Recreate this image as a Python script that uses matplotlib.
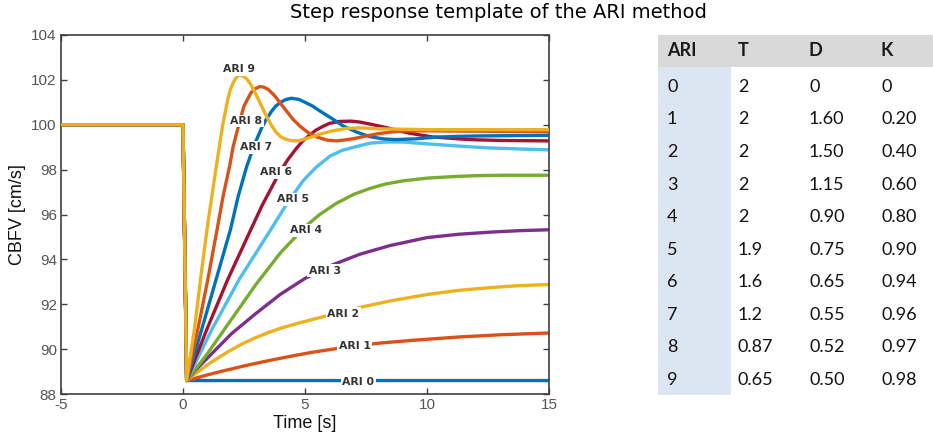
import matplotlib
matplotlib.use("Agg")
import matplotlib.pyplot as plt
from matplotlib.patches import Rectangle

plt.rcParams['axes.unicode_minus'] = False

# baseline before the step, and the value right after the drop
pre_t = [-5, 0]
pre_v = [100, 100]

ari0_t = [0.15, 15]
ari0_v = [88.6, 88.6]
ari1_t = [0.15, 0.5, 1, 1.5, 2.04, 2.5, 3, 3.7, 4.5, 5.3, 6.14, 7, 8.07, 9.5, 11.3, 13, 15]
ari1_v = [88.6, 88.7, 88.85, 88.99, 89.13, 89.25, 89.37, 89.53, 89.7, 89.86, 90.0, 90.14, 90.27, 90.4, 90.54, 90.64, 90.72]
ari2_t = [0.15, 0.5, 1, 1.4, 1.84, 2.4, 3, 3.5, 4, 4.8, 5.66, 6.4, 7.25, 8.5, 9.98, 11.3, 12.7, 13.8, 15]
ari2_v = [88.6, 88.9, 89.3, 89.58, 89.88, 90.22, 90.52, 90.74, 90.93, 91.18, 91.42, 91.63, 91.86, 92.15, 92.43, 92.62, 92.75, 92.83, 92.88]
ari3_t = [0.15, 0.5, 1, 1.5, 2, 2.5, 3, 4, 5, 6, 7.25, 8.5, 10, 11.3, 12.7, 13.8, 15]
ari3_v = [88.6, 89.05, 89.6, 90.15, 90.7, 91.15, 91.6, 92.45, 93.15, 93.7, 94.23, 94.62, 94.97, 95.12, 95.22, 95.28, 95.32]
ari4_t = [0.15, 1, 2, 3, 4, 5, 5.6, 6.29, 7.0, 7.66, 8.3, 9.02, 10, 11.07, 12, 13.1, 15]
ari4_v = [88.6, 89.8, 91.35, 92.9, 94.3, 95.45, 96.0, 96.5, 96.9, 97.16, 97.36, 97.5, 97.62, 97.69, 97.73, 97.75, 97.75]
ari5_t = [0.15, 1.19, 2.31, 3.0, 3.61, 4.3, 4.92, 5.45, 6.02, 6.5, 7.0, 7.66, 8.3, 9.02, 10.0, 11.3, 12.5, 13.8, 15]
ari5_v = [88.6, 90.89, 93.12, 94.3, 95.35, 96.55, 97.5, 98.1, 98.6, 98.85, 99.0, 99.18, 99.23, 99.23, 99.15, 99.05, 98.97, 98.92, 98.88]
ari6_t = [0.15, 0.98, 1.84, 2.79, 3.24, 3.97, 4.3, 4.65, 4.9, 5.2, 5.45, 5.74, 6.0, 6.43, 6.9, 7.25,
          7.8, 8.34, 8.8, 9.3, 10.2, 11.3, 12, 13, 15]
ari6_v = [88.6, 90.89, 93.12, 95.35, 96.4, 97.9, 98.45, 98.95, 99.27, 99.55, 99.76, 99.93, 100.06, 100.15, 100.16, 100.12,
          100.0, 99.87, 99.74, 99.62, 99.46, 99.37, 99.33, 99.3, 99.28]
ari7_t = [0.15, 0.77, 1.36, 1.95, 2.26, 2.6, 2.9, 3.22, 3.4, 3.63, 3.8, 3.97, 4.2, 4.45, 4.75, 5.0, 5.3, 5.6,
          6.1, 6.56, 7.1, 7.66, 8.2, 8.7, 9.5, 10.4, 11.2, 12, 15]
ari7_v = [88.6, 90.89, 93.12, 95.35, 96.8, 98.1, 99.05, 99.85, 100.22, 100.6, 100.83, 100.98, 101.12, 101.18, 101.13, 101.0, 100.84, 100.62,
          100.28, 99.95, 99.68, 99.47, 99.37, 99.34, 99.37, 99.45, 99.48, 99.5, 99.53]
ari8_t = [0.15, 0.61, 1.02, 1.4, 1.65, 1.92, 2.05, 2.19, 2.35, 2.49, 2.65, 2.8, 2.95, 3.15, 3.3, 3.5, 3.75, 3.97,
          4.25, 4.51, 4.8, 5.13, 5.5, 5.88, 6.3, 6.6, 7.0, 7.5, 8.0, 8.5, 9.0, 10, 11, 15]
ari8_v = [88.6, 90.89, 93.12, 95.35, 96.85, 98.2, 99.0, 99.6, 100.25, 100.8, 101.15, 101.45, 101.6, 101.70, 101.68, 101.57, 101.3, 100.99,
          100.6, 100.24, 99.93, 99.65, 99.45, 99.32, 99.28, 99.32, 99.38, 99.5, 99.6, 99.67, 99.72, 99.73, 99.72, 99.69]
ari9_t = [0.15, 0.47, 0.74, 0.98, 1.2, 1.41, 1.62, 1.85, 1.95, 2.05, 2.15, 2.25, 2.33, 2.45, 2.6, 2.7, 2.81, 2.95,
          3.15, 3.3, 3.45, 3.65, 3.83, 4.0, 4.2, 4.4, 4.58, 4.8, 5.1, 5.35, 5.6, 6.1, 6.7, 7.3, 8, 10, 15]
ari9_v = [88.6, 90.89, 93.3, 95.3, 96.95, 98.46, 99.95, 101.2, 101.6, 101.85, 102.05, 102.18, 102.22, 102.17, 102.06, 101.92, 101.73, 101.45,
          100.99, 100.65, 100.32, 99.93, 99.65, 99.47, 99.36, 99.3, 99.28, 99.3, 99.4, 99.48, 99.58, 99.72, 99.84, 99.86, 99.82, 99.78, 99.78]

curves_t = [ari0_t, ari1_t, ari2_t, ari3_t, ari4_t, ari5_t, ari6_t, ari7_t, ari8_t, ari9_t]
curves_v = [ari0_v, ari1_v, ari2_v, ari3_v, ari4_v, ari5_v, ari6_v, ari7_v, ari8_v, ari9_v]

# where the "ARI n" tags sit (time, CBFV)
label_t = [7.18, 7.04, 6.56, 5.81, 5.06, 4.5, 3.83, 3.01, 2.6, 2.29]
label_v = [88.55, 90.15, 91.58, 93.5, 95.3, 96.68, 97.88, 99.0, 100.17, 102.47]

# table on the right
tab_header = ["ARI", "T", "D", "K"]
tab_ari = ["0", "1", "2", "3", "4", "5", "6", "7", "8", "9"]
tab_T = ["2", "2", "2", "2", "2", "1.9", "1.6", "1.2", "0.87", "0.65"]
tab_D = ["0", "1.60", "1.50", "1.15", "0.90", "0.75", "0.65", "0.55", "0.52", "0.50"]
tab_K = ["0", "0.20", "0.40", "0.60", "0.80", "0.90", "0.94", "0.96", "0.97", "0.98"]

colors = ['#0072BD', '#D95319', '#EDB120', '#7E2F8E', '#77AC30',
          '#4DBEEE', '#A2142F', '#0072BD', '#D95319', '#EDB120']

W, H = 933, 438
fig = plt.figure(figsize=(W / 100, H / 100), dpi=100)
ax = fig.add_axes([61 / W, 1 - 394 / H, 488 / W, 359 / H])

for i in range(10):
    t = pre_t + curves_t[i]
    v = pre_v + curves_v[i]
    ax.plot(t, v, color=colors[i], lw=2.4, solid_joinstyle='round',
            solid_capstyle='round', zorder=2 + i * 0.1)

for i in range(10):
    ax.text(label_t[i], label_v[i], f"ARI {i}", fontsize=7.8, fontweight='bold',
            color='#333333', ha='center', va='center', zorder=5,
            bbox=dict(facecolor='white', edgecolor='none', pad=1.0))

axis_font = ['Liberation Sans', 'DejaVu Sans']
ax.set_xlim(-5, 15)
ax.set_ylim(88, 104)
ax.set_xticks([-5, 0, 5, 10, 15])
ax.set_yticks(range(88, 105, 2))
ax.tick_params(direction='in', top=True, right=True, length=4, width=1,
               colors='#404040', labelsize=11, pad=3)
for lab in ax.get_xticklabels() + ax.get_yticklabels():
    lab.set_family(axis_font)
    lab.set_color('#555555')
for sp in ax.spines.values():
    sp.set_color('#404040')
    sp.set_linewidth(1.2)
ax.set_xlabel("Time [s]", fontsize=13, family=axis_font, color='#111111', labelpad=2)
ax.set_ylabel("CBFV [cm/s]", fontsize=13, family=axis_font, color='#111111', labelpad=4)

fig.text(498 / W, 1 - 12 / H, "Step response template of the ARI method",
         ha='center', va='center', fontsize=14, family='DejaVu Sans')

# table
fig.patches.append(Rectangle((658 / W, 1 - 66.5 / H), (W - 658) / W, 31.5 / H,
                             transform=fig.transFigure, facecolor='#d9d9d9',
                             edgecolor='none', zorder=0))
fig.patches.append(Rectangle((658 / W, 1 - 395 / H), 73 / W, (395 - 66.5) / H,
                             transform=fig.transFigure, facecolor='#dce6f2',
                             edgecolor='none', zorder=0))
col_x = [667, 738, 809, 881]
for j, h in enumerate(tab_header):
    fig.text(col_x[j] / W, 1 - 51 / H, h, ha='left', va='center', fontsize=13,
             family='Lato', fontweight='bold', color='#1a1a1a')
for r in range(10):
    y = 86.7 + r * 32.6
    row = [tab_ari[r], tab_T[r], tab_D[r], tab_K[r]]
    for j, s in enumerate(row):
        fig.text(col_x[j] / W, 1 - y / H, s, ha='left', va='center', fontsize=13,
                 family='Lato', color='#111111')

fig.savefig("out.png", dpi=100)
